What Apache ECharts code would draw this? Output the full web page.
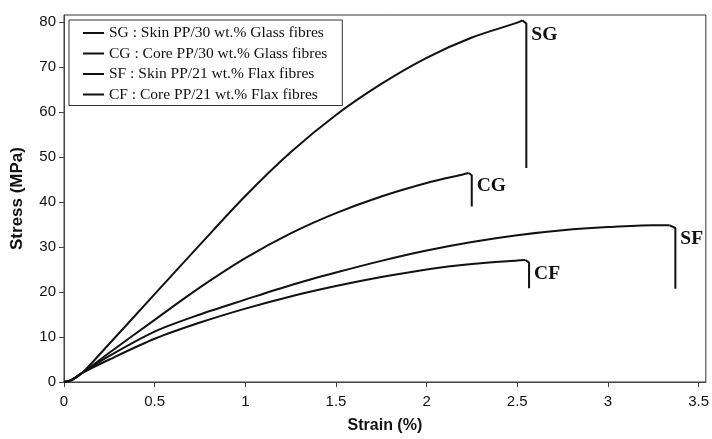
<!DOCTYPE html>
<html>
<head>
<meta charset="utf-8">
<script src="https://cdn.jsdelivr.net/npm/echarts@6/dist/echarts.min.js"></script>
<style>
html,body{margin:0;padding:0;background:#fff;}
#chart{width:712px;height:439px;}
</style>
</head>
<body>
<div id="chart"></div>
<script>
// Series data: [strain (%), stress (MPa)]
const seriesNames = [
  'SG : Skin PP/30 wt.% Glass fibres',
  'CG : Core PP/30 wt.% Glass fibres',
  'SF : Skin PP/21 wt.% Flax fibres',
  'CF : Core PP/21 wt.% Flax fibres'
];
const shortLabels = ['SG', 'CG', 'SF', 'CF'];

// last three points of each array: peak, break corner, bottom of the drop
const sgData = [[0,0],[0.04,0.4],[0.1,2],[0.25,8.5],[0.5,19.5],[0.75,30.5],[1.0,41.3],[1.25,51],[1.5,59.3],[1.75,66.2],[2.0,72],[2.25,76.5],[2.5,79.8],[2.528,80.3],[2.55,79.6],[2.55,47.5]];
const cgData = [[0,0],[0.04,0.4],[0.1,2],[0.25,6.5],[0.5,13.8],[0.75,21],[1.0,27.5],[1.25,33],[1.5,37.5],[1.75,41.2],[2.0,44.2],[2.2,46.1],[2.232,46.4],[2.249,45.9],[2.249,39]];
const sfData = [[0,0],[0.04,0.4],[0.1,2],[0.25,5.8],[0.5,11.2],[0.75,15],[1.0,18.3],[1.25,21.5],[1.5,24.3],[1.75,26.9],[2.0,29.2],[2.25,31.1],[2.5,32.6],[2.75,33.7],[3.0,34.4],[3.25,34.8],[3.34,34.8],[3.372,34.2],[3.372,20.7]];
const cfData = [[0,0],[0.04,0.4],[0.1,2],[0.25,5],[0.5,9.6],[0.75,13.2],[1.0,16.3],[1.25,19],[1.5,21.3],[1.75,23.3],[2.0,25],[2.25,26.2],[2.5,27],[2.545,27.1],[2.565,26.5],[2.565,20.8]];

const xTicks = [0, 0.5, 1, 1.5, 2, 2.5, 3, 3.5];
const yTicks = [0, 10, 20, 30, 40, 50, 60, 70, 80];

const allData = [sgData, cgData, sfData, cfData];
const lineColor = '#111';

const series = [];
allData.forEach((d, i) => {
  const n = d.length;
  // smooth loading curve up to the peak
  series.push({
    name: seriesNames[i],
    type: 'line',
    showSymbol: false,
    symbol: 'none',
    smooth: 0.3,
    lineStyle: { color: lineColor, width: 2 },
    itemStyle: { color: lineColor },
    z: 3,
    data: d.slice(0, n - 2)
  });
  // failure: peak -> corner -> sudden drop (straight)
  series.push({
    name: seriesNames[i],
    type: 'line',
    showSymbol: false,
    symbol: 'none',
    smooth: false,
    lineStyle: { color: lineColor, width: 2 },
    itemStyle: { color: lineColor },
    z: 3,
    data: d.slice(n - 3),
    markPoint: {
      symbol: 'circle',
      symbolSize: 0,
      silent: true,
      data: [{
        coord: d[n - 2],
        label: {
          show: true,
          formatter: shortLabels[i],
          position: 'right',
          distance: 5,
          offset: [0, 11],
          fontFamily: 'Liberation Serif, Times New Roman, serif',
          fontWeight: 'bold',
          fontSize: 19.5,
          color: '#111'
        }
      }]
    }
  });
});

const chart = echarts.init(document.getElementById('chart'), null, { renderer: 'canvas' });
chart.setOption({
  animation: false,
  backgroundColor: '#fff',
  grid: {
    left: 64, right: 5, top: 15, bottom: 53,
    show: true, borderColor: '#333', borderWidth: 1, backgroundColor: 'transparent'
  },
  legend: {
    orient: 'vertical',
    left: 69, top: 20,
    padding: [5, 15, 3, 14],
    itemWidth: 21, itemHeight: 2,
    itemGap: 4.5,
    icon: 'rect',
    borderColor: '#333', borderWidth: 1,
    backgroundColor: '#fff',
    textStyle: {
      fontFamily: 'Liberation Serif, Times New Roman, serif',
      fontSize: 15.5, color: '#111', lineHeight: 16
    },
    itemStyle: { color: lineColor },
    data: seriesNames
  },
  xAxis: {
    type: 'value',
    min: 0, max: 3.54,
    name: 'Strain (%)',
    nameLocation: 'middle',
    nameGap: 36,
    nameTextStyle: { fontFamily: 'Liberation Sans, Arial, sans-serif', fontSize: 16, fontWeight: 'bold', color: '#111' },
    axisLine: { show: true, lineStyle: { color: '#444', width: 1 } },
    axisTick: { show: true, inside: false, length: 5, customValues: xTicks, lineStyle: { color: '#444' } },
    axisLabel: {
      customValues: xTicks,
      margin: 12,
      fontFamily: 'Liberation Sans, Arial, sans-serif', fontSize: 15, color: '#111',
      formatter: v => String(v)
    },
    splitLine: { show: false }
  },
  yAxis: {
    type: 'value',
    min: 0, max: 81.5,
    name: 'Stress (MPa)',
    nameLocation: 'middle',
    nameGap: 38,
    nameTextStyle: { fontFamily: 'Liberation Sans, Arial, sans-serif', fontSize: 17, fontWeight: 'bold', color: '#111' },
    axisLine: { show: true, lineStyle: { color: '#444', width: 1 } },
    axisTick: { show: true, inside: false, length: 5, customValues: yTicks, lineStyle: { color: '#444' } },
    axisLabel: {
      customValues: yTicks,
      margin: 8,
      fontFamily: 'Liberation Sans, Arial, sans-serif', fontSize: 15, color: '#111'
    },
    splitLine: { show: false }
  },
  series: series
});
</script>
</body>
</html>
